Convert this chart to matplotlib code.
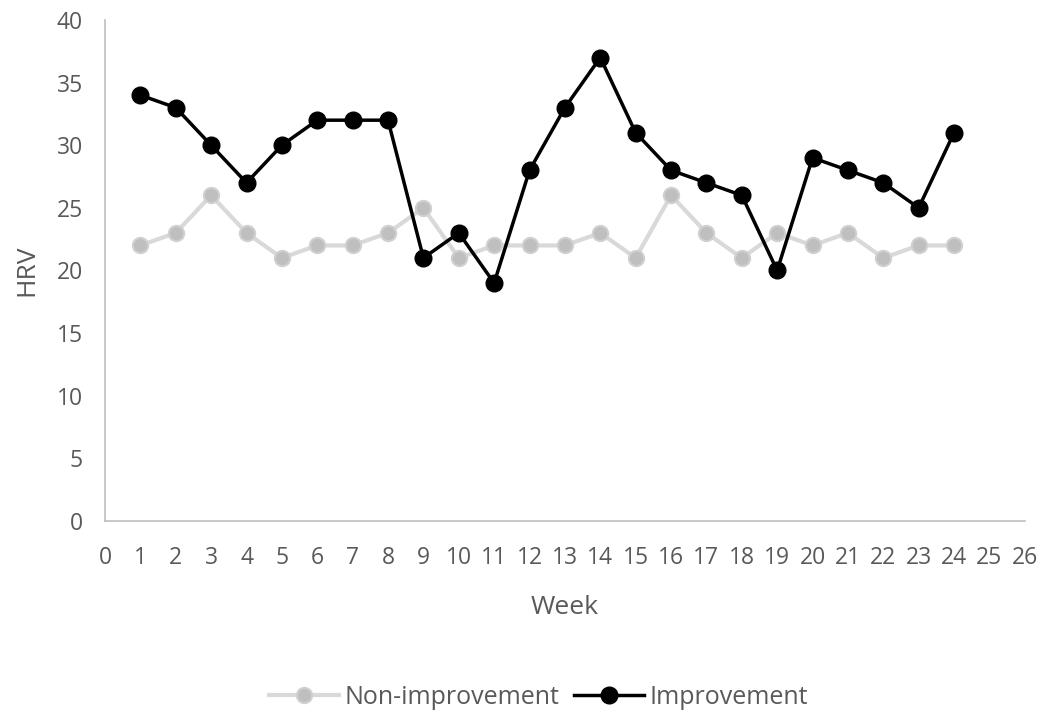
import matplotlib.pyplot as plt
from matplotlib import rcParams

rcParams["font.family"] = ["Open Sans", "DejaVu Sans"]

# data
weeks = list(range(1, 25))
non_improvement = [22, 23, 26, 23, 21, 22, 22, 23, 25, 21, 22, 22,
                   22, 23, 21, 26, 23, 21, 23, 22, 23, 21, 22, 22]
improvement = [34, 33, 30, 27, 30, 32, 32, 32, 21, 23, 19, 28,
               33, 37, 31, 28, 27, 26, 20, 29, 28, 27, 25, 31]

text_color = "#595959"

fig = plt.figure(figsize=(10.5, 7.24), dpi=100)
ax = fig.add_axes([0.1, 0.2804, 0.876, 0.692])

ax.plot(weeks, non_improvement, color="#d9d9d9", linewidth=3,
        marker="o", markersize=11, markerfacecolor="#bfbfbf",
        markeredgecolor="#d0d0d0", markeredgewidth=1.5,
        label="Non-improvement")
ax.plot(weeks, improvement, color="black", linewidth=2.5,
        marker="o", markersize=12, label="Improvement")

ax.set_xlim(0, 26)
ax.set_ylim(0, 40)
ax.set_xticks(range(0, 27))
ax.set_yticks(range(0, 41, 5))

for s in ["top", "right"]:
    ax.spines[s].set_visible(False)
for s in ["left", "bottom"]:
    ax.spines[s].set_color("#bfbfbf")
    ax.spines[s].set_linewidth(1.2)

ax.tick_params(axis="both", length=0, labelsize=16.5, colors=text_color)
ax.tick_params(axis="x", pad=18)
ax.tick_params(axis="y", pad=16)

ax.set_xlabel("Week", fontsize=19, color=text_color, labelpad=18)
ax.set_ylabel("HRV", fontsize=19, color=text_color, labelpad=12)

fig.legend(loc="center", bbox_to_anchor=(0.513, 0.037), ncol=2, frameon=False,
           fontsize=18, labelcolor=text_color, handlelength=2.8,
           columnspacing=0.6, handletextpad=0.2)

fig.savefig("out.png", dpi=100)
